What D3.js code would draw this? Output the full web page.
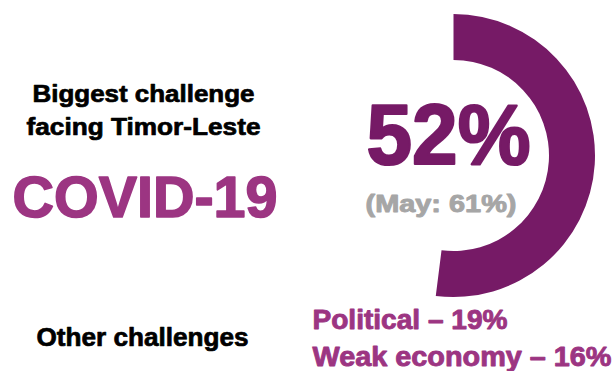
<!DOCTYPE html>
<html>
<head>
<meta charset="utf-8">
<script src="https://cdn.jsdelivr.net/npm/d3@7"></script>
<style>
  body { margin: 0; background: #fff; }
  text { font-family: "Liberation Sans", Arial, sans-serif; font-weight: bold; stroke-linejoin: round; }
</style>
</head>
<body>
<div id="view"></div>
<script>
// chart values
var titleLines = ["Biggest challenge", "facing Timor-Leste"];
var topChallenge = "COVID-19";
var topValue = [52];
var mayValue = [61];
var otherLabel = "Other challenges";
var otherNames = ["Political", "Weak economy"];
var otherValues = [19, 16];

var purple = "#761a66", pink = "#9c3582", grey = "#a6a6a6";

var svg = d3.select("#view")
	.append("svg")
	.attr("id", "main-svg")
	.attr("width", 616)
	.attr("height", 371);

// the ring: share of 100% turned into an angle
var angle = d3.scaleLinear().domain([0, 100]).range([0, 2 * Math.PI]);
var arc = d3.arc().innerRadius(95.5).outerRadius(141.5);

svg.append("g")
	.attr("transform", "translate(453.5,155.5)")
	.selectAll("path")
	.data(topValue)
   .enter().append("path")
	.attr("d", function(d){ return arc({startAngle: 0, endAngle: angle(d)}); })
	.style("fill", purple);

// heavier look: a thin stroke in the fill colour
function label(x, y, size, width, colour, weight, str, anchor){
	return svg.append("text")
		.attr("x", x).attr("y", y)
		.attr("text-anchor", anchor || "middle")
		.attr("font-size", size)
		.attr("textLength", width).attr("lengthAdjust", "spacingAndGlyphs")
		.style("fill", colour)
		.style("stroke", colour)
		.style("stroke-width", weight)
		.text(str);
}

label(448.5, 164, 85, 164, purple, 2.2, topValue[0] + "%");
label(441, 212, 23, 151, grey, 0.9, "(May: " + mayValue[0] + "%)");

// left side text
var titleWidths = [222, 234];
titleLines.forEach(function(d, i){
	label(143.5, 102 + i * 33, 24, titleWidths[i], "#000", 0.7, d);
});

label(145, 217, 57, 265, pink, 1.6, topChallenge);
label(142.5, 346, 25, 212, "#000", 0.7, otherLabel);

var otherWidths = [195, 299];
otherNames.forEach(function(d, i){
	label(312.5, 329 + i * 37, 27, otherWidths[i], pink, 0.9,
		d + " \u2013 " + otherValues[i] + "%", "start");
});
</script>
</body>
</html>
